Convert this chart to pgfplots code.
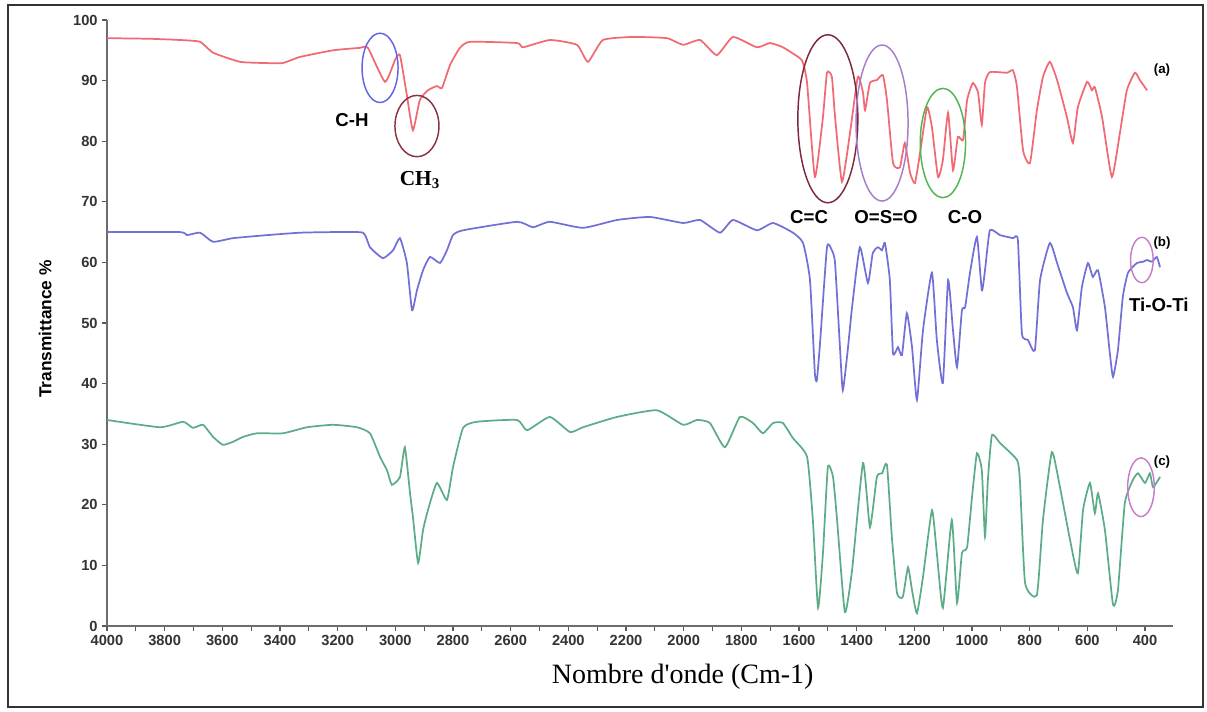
\documentclass[border=0pt]{standalone}
\usepackage{fontspec}
\setmainfont{Liberation Sans}
\newfontfamily\seriffont{Liberation Serif}
\usepackage{pgfplots}
\pgfplotsset{compat=1.18}
\definecolor{cA}{RGB}{240,105,115}
\definecolor{cB}{RGB}{112,112,215}
\definecolor{cC}{RGB}{92,172,136}
\definecolor{eCH}{RGB}{100,100,225}
\definecolor{eCHt}{RGB}{140,50,65}
\definecolor{eCC}{RGB}{125,40,60}
\definecolor{eOSO}{RGB}{165,125,205}
\definecolor{eCO}{RGB}{80,180,80}
\definecolor{eTi}{RGB}{200,125,200}
\begin{document}
\begin{tikzpicture}
\useasboundingbox (-80.25pt,-63.75pt) rectangle (825pt,469.5pt);
\draw[line width=1.6pt, gray!40!black] (-74.25pt,-60.75pt) rectangle (822pt,465.75pt);
\begin{axis}[
  scale only axis, width=799.5pt, height=454.5pt,
  at={(0pt,0pt)}, anchor=south west,
  x dir=reverse, xmin=303, xmax=4000, ymin=0, ymax=100,
  axis x line=bottom, axis y line=left,
  axis line style={-, gray!85!black, line width=1.2pt},
  xtick={400,600,...,4000}, minor xtick={500,700,...,3900},
  ytick={0,10,...,100},
  tick align=outside, major tick length=3.5pt, minor tick length=3.5pt,
  tick style={gray!70!black, line width=0.8pt},
  every tick label/.append style={font=\fontsize{11}{13}\selectfont\bfseries, text=black!80},
  /pgf/number format/assume math mode=true,
  /pgf/number format/1000 sep={},
  xlabel={\seriffont Nombre d'onde (Cm-1)},
  xlabel style={at={(axis description cs:0.540,-0.083)}, anchor=center, font=\fontsize{21}{24}\selectfont},
  ylabel={Transmittance \%},
  ylabel style={at={(axis description cs:-0.058,0.49)}, anchor=center, font=\fontsize{13}{15}\selectfont\bfseries},
  every axis plot/.append style={line width=1.3pt, smooth, tension=0.3},
  clip=false,
]
% (a)
\addplot[cA] coordinates {
(4000,97.0)(3851,96.9)(3747,96.7)(3677,96.4)(3632,94.6)(3539,93.1)(3452,92.9)(3390,92.9)
(3331,93.9)(3216,95.0)(3123,95.4)(3095,95.4)(3036,89.8)(3001,93.4)(2984,94.2)(2960,87.6)
(2939,81.8)(2915,86.8)(2887,88.4)(2856,89.1)(2838,88.8)(2810,92.6)(2776,95.4)(2741,96.4)
(2578,96.2)(2557,95.5)(2464,96.7)(2370,95.9)(2332,93.1)(2280,96.7)(2176,97.2)(2058,97.0)
(2002,95.9)(1943,96.7)(1885,94.2)(1829,97.2)(1746,95.5)(1701,96.2)(1656,95.5)(1597,93.7)
(1586,92.9)(1572,89.6)(1545,74.1)(1517,84.0)(1503,91.3)(1486,90.6)(1475,84.0)(1451,73.3)
(1423,81.4)(1396,90.6)(1378,88.0)(1371,85.1)(1354,89.6)(1330,90.1)(1309,90.9)(1295,86.8)
(1274,76.4)(1250,75.7)(1233,79.7)(1215,74.8)(1198,73.1)(1180,78.1)(1156,85.6)(1139,82.3)
(1118,74.1)(1101,76.9)(1083,84.7)(1066,75.2)(1049,80.7)(1031,80.2)(1017,86.8)(997,89.6)
(979,88.0)(966,82.7)(955,89.6)(938,91.4)(879,91.3)(858,91.7)(844,88.9)(823,78.5)
(799,76.4)(775,85.1)(754,90.6)(730,93.1)(705,90.1)(671,84.0)(650,79.7)(633,85.6)
(601,89.8)(584,88.4)(574,88.9)(549,84.0)(515,74.1)(487,81.4)(463,88.4)(435,91.3)
(418,90.1)(393,88.4)
};
% (b)
\addplot[cB] coordinates {
(4000,65.0)(3747,65.0)(3723,64.5)(3677,64.9)(3632,63.4)(3563,64.0)(3445,64.5)(3331,64.9)
(3216,65.0)(3112,64.9)(3088,62.5)(3043,60.7)(3008,62.0)(2984,64.0)(2960,59.9)(2942,52.1)
(2925,55.4)(2904,58.7)(2880,60.9)(2845,59.9)(2821,62.0)(2800,64.5)(2765,65.3)(2578,66.7)
(2523,65.8)(2464,66.7)(2349,65.7)(2231,67.0)(2117,67.5)(2002,66.5)(1943,67.0)(1874,64.9)
(1829,67.0)(1746,65.3)(1690,66.5)(1621,64.9)(1586,63.2)(1562,57.1)(1545,41.7)(1538,40.6)
(1527,46.7)(1503,62.5)(1486,62.0)(1475,59.9)(1458,46.0)(1448,38.9)(1430,46.0)(1416,52.6)
(1389,62.5)(1361,56.6)(1344,61.6)(1326,62.5)(1312,62.0)(1302,63.2)(1285,57.1)(1274,45.0)
(1257,46.0)(1243,44.7)(1226,51.6)(1208,46.0)(1191,37.3)(1170,48.8)(1139,58.3)(1122,47.2)
(1101,40.1)(1083,57.1)(1066,48.8)(1052,42.7)(1035,52.1)(1024,52.6)(1007,58.3)(983,64.2)
(966,55.4)(955,58.7)(938,65.3)(903,64.5)(858,64.0)(841,63.7)(827,48.3)(806,47.2)
(782,45.5)(764,57.1)(730,63.2)(705,59.9)(671,55.0)(650,52.6)(636,48.8)(619,55.9)
(598,59.9)(581,57.6)(563,58.7)(539,52.6)(522,45.0)(511,41.1)(494,45.5)(477,54.3)
(459,58.3)(428,59.9)(407,60.1)(393,60.4)(376,60.1)(359,60.9)(348,59.2)
};
% (c)
\addplot[cC] coordinates {
(4000,34.0)(3816,32.8)(3736,33.7)(3702,32.7)(3667,33.2)(3632,31.2)(3598,29.9)(3563,30.4)
(3528,31.2)(3480,31.8)(3390,31.8)(3306,32.8)(3216,33.2)(3133,32.8)(3088,31.8)(3053,27.9)
(3029,25.7)(3012,23.3)(2984,24.6)(2967,29.5)(2949,21.9)(2939,18.0)(2921,10.4)(2904,15.8)
(2887,19.1)(2856,23.6)(2821,20.8)(2800,26.2)(2765,32.7)(2717,33.7)(2578,34.0)(2543,32.3)
(2464,34.5)(2394,32.0)(2349,32.8)(2231,34.5)(2093,35.6)(2002,33.2)(1954,34.0)(1909,33.5)
(1857,29.5)(1805,34.5)(1760,33.5)(1725,31.8)(1690,33.5)(1656,33.5)(1621,31.0)(1572,27.9)
(1552,17.5)(1534,3.0)(1517,12.0)(1500,26.2)(1482,24.6)(1468,17.5)(1441,2.3)(1416,9.2)
(1378,26.9)(1354,16.3)(1330,24.6)(1312,25.2)(1295,26.6)(1278,14.7)(1260,5.4)(1240,4.8)
(1222,9.7)(1208,5.9)(1191,2.1)(1170,8.1)(1139,19.1)(1122,12.0)(1101,3.0)(1070,17.5)
(1052,3.8)(1035,12.0)(1017,13.0)(1000,21.3)(983,28.5)(966,25.7)(955,14.7)(945,24.1)
(931,31.5)(903,30.2)(844,27.4)(834,24.1)(816,7.1)(775,5.1)(754,17.5)(723,28.7)
(695,22.9)(660,14.2)(633,8.7)(615,19.1)(591,23.6)(574,18.6)(563,21.9)(539,15.8)
(511,3.5)(494,5.9)(470,20.3)(442,24.1)(424,25.2)(400,23.6)(383,25.2)(372,22.9)(348,24.6)
};
% annotations
\draw[eCH, line width=1.1pt] (axis cs:3053,92.1) ellipse [x radius=13.5pt, y radius=26pt];
\draw[eCHt, line width=1.1pt] (axis cs:2925,82.5) ellipse [x radius=16.5pt, y radius=23pt];
\draw[eCC, line width=1.1pt] (axis cs:1500,83.7) ellipse [x radius=22.5pt, y radius=63pt];
\draw[eOSO, line width=1.1pt] (axis cs:1312,83.0) ellipse [x radius=19.5pt, y radius=58.5pt];
\draw[eCO, line width=1.1pt] (axis cs:1101,79.7) ellipse [x radius=17pt, y radius=41pt];
\draw[eTi, line width=1.1pt] (axis cs:411,60.4) ellipse [x radius=8.5pt, y radius=17pt];
\draw[eTi, line width=1.1pt] (axis cs:414,22.9) ellipse [x radius=10pt, y radius=22pt];
\node[font=\fontsize{14}{16}\selectfont\bfseries] at (axis cs:3150,83.5) {C-H};
\node[font=\fontsize{16}{18}\selectfont\bfseries\seriffont] at (axis cs:2915,73.6) {CH\textsubscript{3}};
\node[font=\fontsize{14}{16}\selectfont\bfseries] at (axis cs:1565,67.5) {C=C};
\node[font=\fontsize{14}{16}\selectfont\bfseries] at (axis cs:1298,67.5) {O=S=O};
\node[font=\fontsize{14}{16}\selectfont\bfseries] at (axis cs:1024,67.5) {C-O};
\node[font=\fontsize{14}{16}\selectfont\bfseries] at (axis cs:352,53.0) {Ti-O-Ti};
\node[font=\fontsize{10}{12}\selectfont\bfseries] at (axis cs:341,91.7) {(a)};
\node[font=\fontsize{10}{12}\selectfont\bfseries] at (axis cs:341,63.2) {(b)};
\node[font=\fontsize{10}{12}\selectfont\bfseries] at (axis cs:341,27.1) {(c)};
\end{axis}
\end{tikzpicture}
\end{document}
